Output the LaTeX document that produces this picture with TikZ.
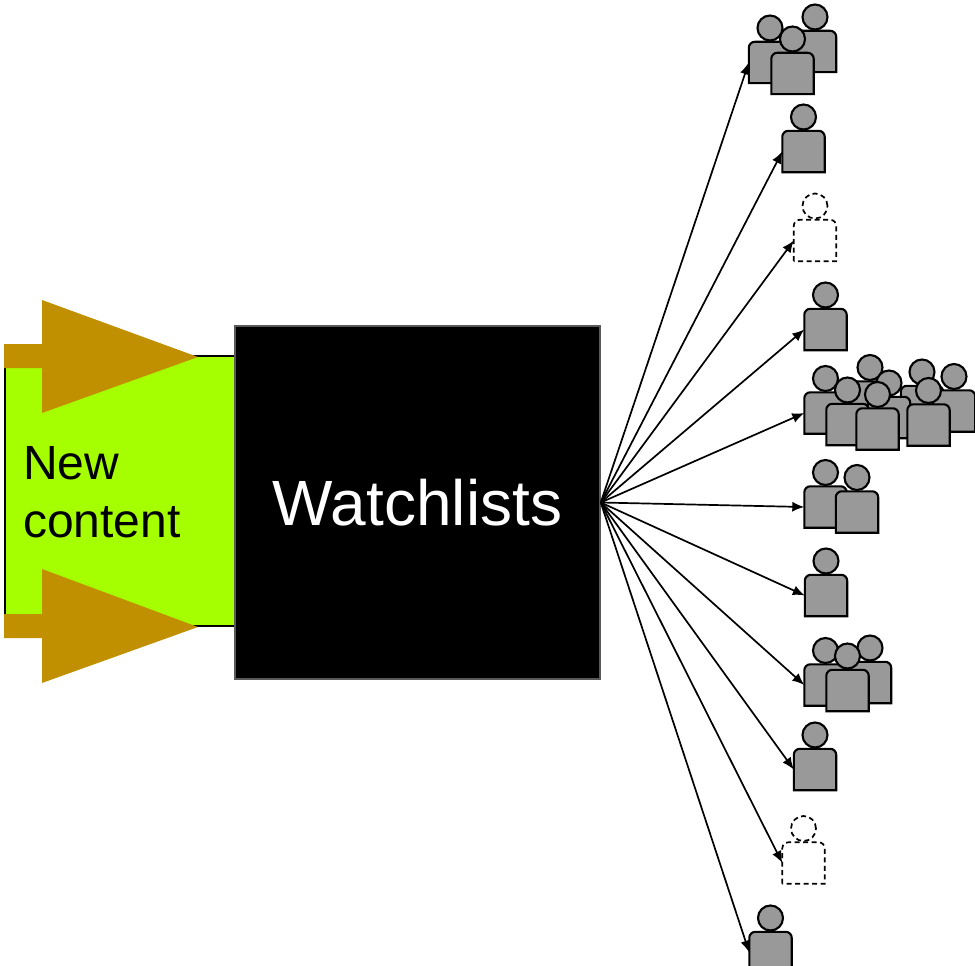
\documentclass[tikz,border=0pt]{standalone}
\usepackage{fontspec}
\setmainfont{Liberation Sans}
\usetikzlibrary{arrows.meta}
\definecolor{incoming}{RGB}{192,144,0}
\definecolor{limegreen}{RGB}{166,255,0}
\definecolor{persongray}{RGB}{153,153,153}
\tikzset{
	solidperson/.style={draw=black, fill=persongray, line width=2.1pt},
	ghostperson/.style={draw=black, fill=white, line width=1.7pt, dash pattern=on 5pt off 3.5pt},
	bodybox/.style={rectangle, minimum width=42pt, minimum height=41pt, inner sep=0pt},
	headdot/.style={circle, minimum size=25pt, inner sep=0pt},
	inarrow/.style={fill=incoming, draw=none},
}
% #1 name, #2 x of head, #3 y of head, #4 look
\newcommand{\person}[4]{
	\node[bodybox] (#1) at (#2, #3+34.5) {};
	\draw[#4] (#1.south west) [rounded corners=6pt] -- (#1.north west) -- (#1.north east) -- (#1.east) [sharp corners] -- (#1.south east) -- cycle;
	\node[headdot, #4] (#1h) at (#2, #3) {};
}
\begin{document}
\begin{tikzpicture}[x=1pt, y=-1pt]
	\useasboundingbox (0, 0) rectangle (975, 966);
	\node[rectangle, draw=black, line width=1.5pt, fill=limegreen, minimum width=230pt, minimum height=270pt, inner sep=0pt] (content) at (120, 491) {};
	\node[rectangle, draw=black!65, line width=1.5pt, fill=black, minimum width=365pt, minimum height=353pt, inner sep=0pt, text=white, font=\fontsize{64}{70}\selectfont] (watch) at (417.5, 502.5) {\raisebox{-1pt}{Watchlists}};
	\node[anchor=north west, align=left, inner sep=0pt, font=\fontsize{48}{58}\selectfont] (contentlabel) at (23, 446) {New\\content};
	\fill[inarrow] (4, 344) -- (42, 344) -- (42, 300) -- (198, 357) -- (42, 413) -- (42, 368) -- (4, 368) -- cycle;
	\fill[inarrow] (4, 614) -- (42, 614) -- (42, 569) -- (198, 627) -- (42, 683) -- (42, 638) -- (4, 638) -- cycle;
	\person{a1}{770}{28}{solidperson}
	\person{a2}{815}{17}{solidperson}
	\person{a3}{792.5}{39}{solidperson}
	\person{b}{803.5}{117}{solidperson}
	\person{c}{815}{206}{ghostperson}
	\person{d}{825.5}{295}{solidperson}
	\person{e6}{922}{372}{solidperson}
	\person{e7}{954}{376.5}{solidperson}
	\person{e2}{870}{367.5}{solidperson}
	\person{e1}{825.5}{378.5}{solidperson}
	\person{e3}{889}{383}{solidperson}
	\person{e4}{847.5}{390}{solidperson}
	\person{e5}{877.5}{394.5}{solidperson}
	\person{e8}{928.5}{390.5}{solidperson}
	\person{f1}{825.5}{472.5}{solidperson}
	\person{f2}{857}{477.5}{solidperson}
	\person{g}{826}{561}{solidperson}
	\person{h1}{825.5}{650.5}{solidperson}
	\person{h2}{870}{648}{solidperson}
	\person{h3}{847.5}{656}{solidperson}
	\person{i}{815}{735}{solidperson}
	\person{j}{803.5}{828.5}{ghostperson}
	\person{k}{770.5}{918}{solidperson}
	\begin{scope}[every edge/.style={draw, line width=1.7pt, -{Latex[length=12pt, width=10pt]}}]
		\path (watch.east) edge (a1.west) edge (b.west) edge (c.west) edge (d.west);
		\path (watch.east) edge (e1.west) edge (f1.west) edge (g.west);
		\path (watch.east) edge (h1.west) edge (i.west) edge (j.west) edge (k.west);
	\end{scope}
\end{tikzpicture}
\end{document}
